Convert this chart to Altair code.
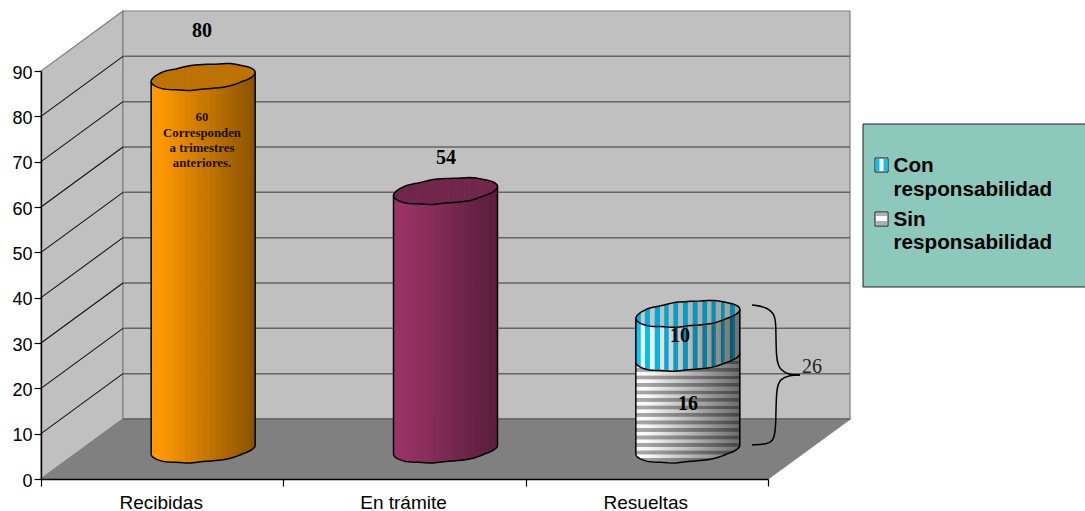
import altair as alt
import numpy as np
import pandas as pd

# Chart values
CATEGORIES = ["Recibidas", "En trámite", "Resueltas"]
RECIBIDAS = 80
EN_TRAMITE = 54
SIN_RESPONSABILIDAD = 16
CON_RESPONSABILIDAD = 10
Y_TICKS = [0, 10, 20, 30, 40, 50, 60, 70, 80, 90]
NOTE_LINES = ["60", "Corresponden", "a trimestres", "anteriores."]
LEGEND_LINES = ["Con", "responsabilidad", "Sin", "responsabilidad"]

# Page geometry
PAGE_LEFT, PAGE_TOP = 41, 71
PLOT_W, PLOT_H = 727, 408
PX_PER_CAT = PLOT_W / 3
PX_PER_UNIT = PLOT_H / 90
DEPTH_X = 82 / PX_PER_CAT   # oblique depth, category units
DEPTH_Y = 60 / PX_PER_UNIT  # oblique depth, axis units

X_SCALE = alt.Scale(domain=[0, 3], nice=False, zero=False)
Y_SCALE = alt.Scale(domain=[0, 90], nice=False, zero=False)
# Cylinders rise on their own mid-depth value scale
CYL_SCALE = alt.Scale(domain=[0, 80], range=[357, 6], nice=False, zero=False)
CYL_PX = 351 / 80
CYL_FOOT = -4.9
CYL_RADIUS = 52 / PX_PER_CAT
RIM_RY = 12.5 / CYL_PX
RIM_TILT = 4.5 / CYL_PX
# Slight hand-drawn unevenness along the cylinder rims, in pixels
RIM_BACK = [0, 0.7, -0.3, 0.5, 0, -0.4, 0.5, -0.3, 0]
RIM_FRONT = [0, -0.5, 0.4, -0.3, 0.6, 0, -0.6, 0.4, 0]
RIM_KNOTS = np.linspace(-1, 1, 9)


def px_x(px):
    return (px - PAGE_LEFT) / PX_PER_CAT


def px_y(py):
    return (PAGE_TOP + PLOT_H - py) / PX_PER_UNIT


def front(t, v):
    w = np.interp(t, RIM_KNOTS, RIM_FRONT) / CYL_PX
    return v + RIM_TILT * t - RIM_RY * np.sqrt(np.clip(1 - t * t, 0, 1)) + w


def back(t, v):
    w = np.interp(t, RIM_KNOTS, RIM_BACK) / CYL_PX
    return v + RIM_TILT * t + RIM_RY * np.sqrt(np.clip(1 - t * t, 0, 1)) + w


def centre(i):
    return i + 0.5 + DEPTH_X / 2


def hex2rgb(h):
    return np.array([int(h[k:k + 2], 16) for k in (1, 3, 5)], dtype=float)


def shaded(h, amount):
    r, g, b = (hex2rgb(h) * (1 - amount)).round().astype(int)
    return f"#{r:02x}{g:02x}{b:02x}"


def shade_at(t, strength):
    u = (t + 1) / 2
    return strength * max(0.0, (u - 0.08) / 0.92)


def strip_edges(n):
    return -np.cos(np.linspace(0, np.pi, n + 1))


def plain_body(i, v, colour, strength, n=26):
    e = strip_edges(n)
    rows = []
    for a, b in zip(e[:-1], e[1:]):
        m = (a + b) / 2
        rows.append(dict(x=centre(i) + a * CYL_RADIUS,
                         x2=centre(i) + min(b + 0.012, 1) * CYL_RADIUS,
                         y=front(m, CYL_FOOT), y2=front(m, v),
                         c=shaded(colour, shade_at(m, strength))))
    return rows


def cap_cells(i, v, colour_fn, n=60):
    e = strip_edges(n)
    rows = []
    for a, b in zip(e[:-1], e[1:]):
        m = (a + b) / 2
        rows.append(dict(x=centre(i) + a * CYL_RADIUS,
                         x2=centre(i) + min(b + 0.012, 1) * CYL_RADIUS,
                         y=front(m, v), y2=back(m, v), c=colour_fn(m)))
    return rows


def vstripe(t, phase_a, phase_b, strength):
    on = ((t + 1) * 52 / 9.4) % 1 < 0.5
    return shaded(phase_a if on else phase_b, shade_at(t, strength))


def striped_body(i, lo, hi, n=100):
    e = strip_edges(n)
    rows = []
    for a, b in zip(e[:-1], e[1:]):
        m = (a + b) / 2
        rows.append(dict(x=centre(i) + a * CYL_RADIUS,
                         x2=centre(i) + min(b + 0.006, 1) * CYL_RADIUS,
                         y=front(m, lo), y2=front(m, hi),
                         c=vstripe(m, "#00c4f5", "#ffffff", 0.58)))
    return rows


def banded_body(i, lo, hi, n=44):
    # Horizontal banding: each period runs light to dark through two steps
    e = strip_edges(n)
    band = 3.75 / CYL_PX
    rows = []
    for a, b in zip(e[:-1], e[1:]):
        m = (a + b) / 2
        y0, y1 = front(m, lo), front(m, hi)
        k = int(np.floor(y0 / band))
        while k * band < y1:
            grey = "#ffffff" if k % 2 == 0 else "#a6a6a6"
            rows.append(dict(x=centre(i) + a * CYL_RADIUS,
                             x2=centre(i) + min(b + 0.012, 1) * CYL_RADIUS,
                             y=max(y0, k * band), y2=min(y1, (k + 1) * band),
                             c=shaded(grey, shade_at(m, 0.58))))
            k += 1
    return rows


def outlines(i, top, name):
    t = strip_edges(40)
    rows = []
    path = f"{name}-rim"
    ring = list(zip(t, back(t, top))) + list(zip(t[::-1], front(t[::-1], top)))
    for o, (a, y) in enumerate(ring):
        rows.append(dict(path=path, ord=o, x=centre(i) + a * CYL_RADIUS, y=y))
    path = f"{name}-side"
    side = [(-1.0, float(front(-1.0, top)))] + list(zip(t, front(t, CYL_FOOT))) + [(1.0, float(front(1.0, top)))]
    for o, (a, y) in enumerate(side):
        rows.append(dict(path=path, ord=o, x=centre(i) + a * CYL_RADIUS, y=y))
    return rows


def cells_layer(rows):
    return alt.Chart(pd.DataFrame(rows)).mark_rect(strokeWidth=0).encode(
        x=alt.X("x:Q", scale=X_SCALE, axis=None),
        x2="x2:Q",
        y=alt.Y("y:Q", scale=CYL_SCALE, axis=None),
        y2="y2:Q",
        color=alt.Color("c:N", scale=None),
    )


def text_at(px, py, label, **style):
    return alt.Chart(alt.Data(values=[{"t": label}])).mark_text(**style).encode(
        x=alt.value(px - PAGE_LEFT), y=alt.value(py - PAGE_TOP), text="t:N"
    )


def box(x0, x1, y0, y1, **style):
    return alt.Chart(alt.Data(values=[{}])).mark_rect(**style).encode(
        x=alt.value(x0 - PAGE_LEFT), x2=alt.value(x1 - PAGE_LEFT),
        y=alt.value(y0 - PAGE_TOP), y2=alt.value(y1 - PAGE_TOP),
    )


def frame_area(rows, fill):
    return alt.Chart(pd.DataFrame(rows)).mark_area(color=fill, stroke="#808080", strokeWidth=1.2).encode(
        x=alt.X("x:Q", scale=X_SCALE, axis=None),
        y=alt.Y("y:Q", scale=Y_SCALE, axis=None),
        y2="y2:Q",
    )


def poly_lines(rows, **style):
    return alt.Chart(pd.DataFrame(rows)).mark_line(**style).encode(
        x=alt.X("x:Q", scale=X_SCALE, axis=None),
        y=alt.Y("y:Q", scale=Y_SCALE, axis=None),
        detail="path:N",
        order="ord:Q",
    )


# Walls and floor of the oblique box
side_wall = frame_area([
    dict(x=0, y=0, y2=90),
    dict(x=DEPTH_X, y=DEPTH_Y, y2=90 + DEPTH_Y),
], "#c0c0c0")
back_wall = frame_area([
    dict(x=DEPTH_X, y=DEPTH_Y, y2=90 + DEPTH_Y),
    dict(x=3 + DEPTH_X, y=DEPTH_Y, y2=90 + DEPTH_Y),
], "#c0c0c0")
floor = frame_area([
    dict(x=0, y=0, y2=0),
    dict(x=DEPTH_X, y=DEPTH_Y, y2=0),
    dict(x=3, y=DEPTH_Y, y2=0),
    dict(x=3 + DEPTH_X, y=DEPTH_Y, y2=DEPTH_Y),
], "#808080")

side_rows, back_rows = [], []
for v in Y_TICKS:
    side_rows += [dict(path=str(v), ord=0, x=0, y=v), dict(path=str(v), ord=1, x=DEPTH_X, y=v + DEPTH_Y)]
    back_rows += [dict(path=str(v), ord=0, x=DEPTH_X, y=v + DEPTH_Y), dict(path=str(v), ord=1, x=3 + DEPTH_X, y=v + DEPTH_Y)]
side_grid = poly_lines(side_rows[2:-2], color="#111111", strokeWidth=1.1)
back_grid = poly_lines(back_rows[:-2], color="#666666", strokeWidth=1.5)

# Axes
y_axis = alt.Chart(pd.DataFrame({"v": Y_TICKS})).mark_rule(opacity=0).encode(
    y=alt.Y("v:Q", scale=Y_SCALE, title=None, axis=alt.Axis(
        values=Y_TICKS, labelFont="Liberation Sans", labelFontSize=18, labelColor="#000000",
        tickColor="#000000", tickSize=7, tickWidth=1.2, labelPadding=2, labelOffset=2,
        domainColor="#000000", domainWidth=1.4, grid=False, zindex=1)),
)
x_axis = alt.Chart(pd.DataFrame({"c": CATEGORIES})).mark_rule(opacity=0).encode(
    x=alt.X("c:N", sort=CATEGORIES, title=None,
            scale=alt.Scale(type="band", domain=CATEGORIES, paddingInner=0, paddingOuter=0),
            axis=alt.Axis(labelAngle=0, labelFont="Liberation Sans", labelFontSize=19, labelColor="#000000",
                          tickColor="#000000", tickSize=7, tickWidth=1.2, tickBand="extent", labelPadding=7,
                          labelOffset=-1.5,
                          domainColor="#000000", domainWidth=1.4, grid=False, zindex=1)),
)

# Cylinders
orange, plum = "#ff9900", "#993366"
top3 = SIN_RESPONSABILIDAD + CON_RESPONSABILIDAD

cylinders = [
    cells_layer(plain_body(0, RECIBIDAS, orange, 0.46)),
    cells_layer(cap_cells(0, RECIBIDAS, lambda t: "#bd7300")),
    cells_layer(plain_body(1, EN_TRAMITE, plum, 0.42)),
    cells_layer(cap_cells(1, EN_TRAMITE, lambda t: "#72264c")),
    cells_layer(banded_body(2, CYL_FOOT, SIN_RESPONSABILIDAD)),
    cells_layer(striped_body(2, SIN_RESPONSABILIDAD, top3)),
    cells_layer(cap_cells(2, top3, lambda t: vstripe(t, "#00aed9", "#c8c8c8", 0.22), n=100)),
]

seam_t = strip_edges(40)
outline_rows = (outlines(0, RECIBIDAS, "a") + outlines(1, EN_TRAMITE, "b") + outlines(2, top3, "c")
                + [dict(path="c-seam", ord=o, x=centre(2) + a * CYL_RADIUS, y=float(front(a, SIN_RESPONSABILIDAD)))
                   for o, a in enumerate(seam_t)])
cylinder_edges = alt.Chart(pd.DataFrame(outline_rows)).mark_line(color="#000000", strokeWidth=1.5).encode(
    x=alt.X("x:Q", scale=X_SCALE, axis=None),
    y=alt.Y("y:Q", scale=CYL_SCALE, axis=None),
    detail="path:N",
    order="ord:Q",
)

# Curly brace around the stacked total
BRACE_UPPER = [(752, 305), (767, 307), (775, 315), (776, 325), (776, 360), (780, 370), (790, 375), (800, 375)]
BRACE_LOWER = [(800, 375), (790, 375), (780, 379), (776, 388), (776, 431), (773, 441), (767, 444), (752, 445)]
brace_rows = []
for name, pts in (("u", BRACE_UPPER), ("l", BRACE_LOWER)):
    brace_rows += [dict(path=name, ord=o, x=px_x(a), y=px_y(b)) for o, (a, b) in enumerate(pts)]
brace = poly_lines(brace_rows, color="#000000", strokeWidth=1.5, interpolate="basis")

SERIF_BOLD = dict(font="Liberation Serif", fontWeight="bold", fontSize=20, color="#000000", align="center", baseline="middle")
labels = [
    text_at(202, 31, str(RECIBIDAS), **SERIF_BOLD),
    text_at(446, 158, str(EN_TRAMITE), **SERIF_BOLD),
    text_at(680, 336, str(CON_RESPONSABILIDAD), **SERIF_BOLD),
    text_at(688, 404, str(SIN_RESPONSABILIDAD), **SERIF_BOLD),
    text_at(812, 367, str(top3), font="Liberation Serif", fontSize=20, color="#222222", align="center", baseline="middle"),
]
for py, line in zip((117, 133, 148, 163), NOTE_LINES):
    labels.append(text_at(202, py, line, font="Liberation Serif", fontWeight="bold", fontSize=12.8,
                          color="#1a1000", align="center", baseline="middle"))

# Legend panel
legend = [
    box(863, 1095, 124, 287, fill="#8cc9bc", stroke="#222222", strokeWidth=1),
    box(875, 888, 158, 172, fill="#ffffff", stroke="#111111", strokeWidth=1),
    box(876, 879.5, 159, 171, fill="#00c4f5"),
    box(883.5, 887, 159, 171, fill="#00c4f5"),
    box(875, 888, 212, 226, fill="#ffffff", stroke="#111111", strokeWidth=1),
    box(876, 887, 213, 216, fill="#b0b0b0"),
    box(876, 887, 221, 225, fill="#b0b0b0"),
]
for py, line in zip((166, 190, 220, 243), LEGEND_LINES):
    legend.append(text_at(893.5, py, line, font="Liberation Sans", fontWeight="bold", fontSize=20.7,
                          color="#000000", align="left", baseline="middle"))

chart = alt.layer(
    side_wall, back_wall, floor, back_grid, side_grid,
    y_axis, x_axis,
    *cylinders, cylinder_edges, brace, *labels, *legend,
).resolve_scale(x="independent", y="independent", color="independent").properties(
    width=PLOT_W,
    height=PLOT_H,
    padding={"left": PAGE_LEFT, "top": PAGE_TOP, "right": 1085 - PAGE_LEFT - PLOT_W, "bottom": 511 - PAGE_TOP - PLOT_H},
    autosize=alt.AutoSizeParams(type="none"),
    background="#ffffff",
).configure_view(stroke=None)

chart.save("out.html", embed_options={"renderer": "svg", "actions": False})
